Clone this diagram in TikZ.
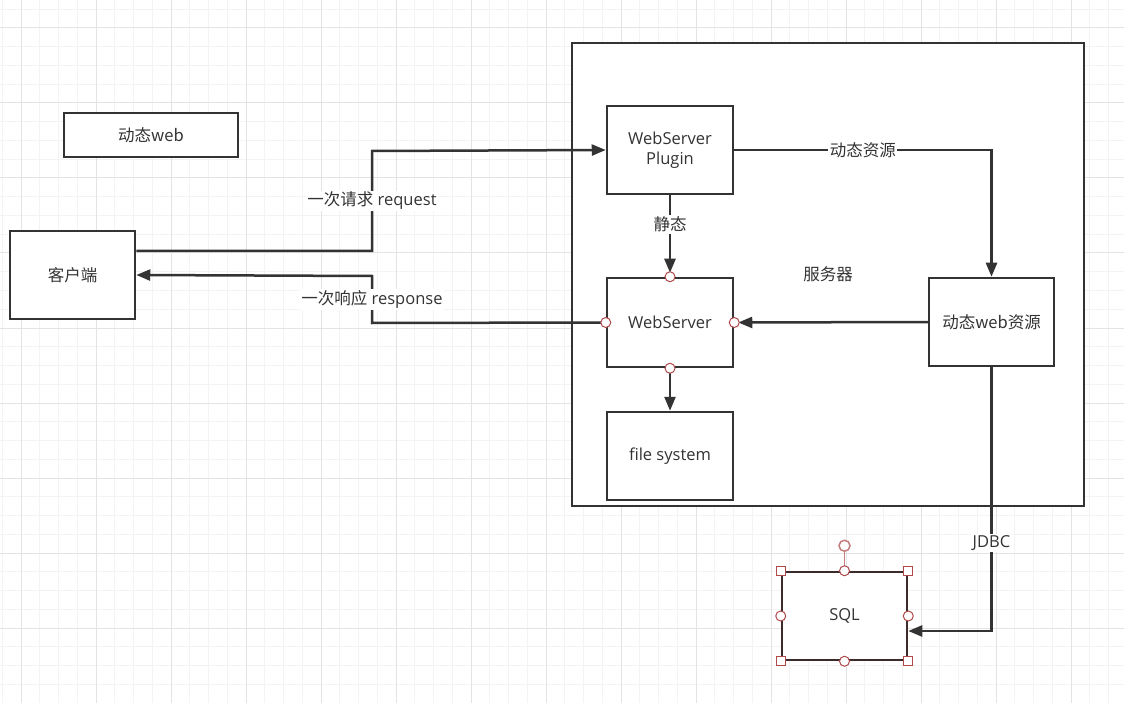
\documentclass[tikz,border=0pt]{standalone}
\usepackage{fontspec}
\setmainfont{Open Sans}
\newfontfamily\cjk{Noto Sans CJK SC}
\usepackage{xcolor}
\definecolor{edge}{HTML}{333333}
\definecolor{txt}{HTML}{333333}
\definecolor{gridminor}{HTML}{F3F3F3}
\definecolor{gridmajor}{HTML}{E3E3E3}
\definecolor{handle}{HTML}{B04A4A}
\definecolor{rothandle}{HTML}{C47E7E}
\definecolor{selborder}{HTML}{3D2B2B}
\usetikzlibrary{arrows.meta, positioning, calc}
\newcommand{\zh}[1]{{\cjk #1}}

\begin{document}
\begin{tikzpicture}[
  x=1pt, y=-1pt,
  box/.style={rectangle, draw=edge, line width=2.5pt, fill=white,
    minimum width=126pt, minimum height=88pt, align=center, text=txt,
    font=\fontsize{16.5}{20}\selectfont, inner sep=0pt},
  conn/.style={draw=edge, line width=2.5pt, -{Triangle[length=14pt,width=11pt]}},
  lbl/.style={fill=white, inner sep=1.5pt, text=txt,
    font=\fontsize{16.5}{20}\selectfont},
  port/.style={circle, draw=handle, fill=white, line width=1pt,
    minimum size=10pt, inner sep=0pt},
  hsq/.style={rectangle, draw=handle, fill=white, line width=1pt,
    minimum size=9pt, inner sep=0pt},
]
  \useasboundingbox (0,0) rectangle (1124,703);
  \fill[white] (0,0) rectangle (1124,703);

  % Grid
  \foreach \i in {0,...,59}
    \draw[gridminor, line width=1pt] ({2.25+18.75*\i},0) -- ({2.25+18.75*\i},703);
  \foreach \j in {0,...,37}
    \draw[gridminor, line width=1pt] (0,{9.25+18.75*\j}) -- (1124,{9.25+18.75*\j});
  \foreach \i in {0,...,14}
    \draw[gridmajor, line width=1pt] ({21+75*\i},0) -- ({21+75*\i},703);
  \foreach \j in {0,...,9}
    \draw[gridmajor, line width=1pt] (0,{28+75*\j}) -- (1124,{28+75*\j});

  % Server frame
  \node[box, minimum width=512pt, minimum height=463pt] (server)
    at (828,274.5) {\zh{服务器}};

  % Legend
  \node[box, minimum width=174pt, minimum height=44pt] (dynweb)
    at (151,135) {\zh{动态web}};

  % Client
  \node[box, minimum width=125pt] (client) at (72.5,275) {\zh{客户端}};

  % Inside the server
  \node[box] (plugin) at (670,150) {WebServer\\Plugin};
  \node[box, minimum height=89pt] (webserver) at (670,322.5) {WebServer};
  \node[box] (filesys) at (670,456) {file system};
  \node[box, minimum width=125pt] (dynres) at (991.5,322) {\zh{动态web资源}};

  % Database
  \node[box, draw=selborder, minimum width=125pt] (sqlbox) at (844.5,616) {SQL};

  % Connectors
  \draw[conn] ([yshift=24pt]client.east) -- (372,251)
    -- node[lbl]{\zh{一次请求} request} (372,151) -- (plugin.west);
  \draw[conn] (webserver.west) -- (372,323)
    -- node[lbl]{\zh{一次响应} response} (372,276) -- (client.east);
  \draw[conn, shorten >=4pt] (plugin.south) -- node[lbl, pos=0.36]{\zh{静态}} (webserver.north);
  \draw[conn] (plugin.east) -| node[lbl, pos=0.25]{\zh{动态资源}} (dynres.north);
  \draw[conn, shorten >=4pt] (dynres.west) -- (webserver.east);
  \draw[conn] (webserver.south) -- (filesys.north);
  \draw[conn] (dynres.south) |- node[lbl, pos=0.334]{JDBC} ([yshift=-15pt]sqlbox.east);

  % Ports on WebServer
  \foreach \a/\n in {north/n, south/s, west/w, east/e}
    \node[port] (ws-\n) at (webserver.\a) {};

  % Selection handles on SQL
  \draw[rothandle, line width=1.2pt] (sqlbox.north) -- ++(0,-20);
  \node[circle, draw=rothandle, fill=white, line width=1.5pt,
    minimum size=11pt, inner sep=0pt] (rot) at ($(sqlbox.north)+(0,-25)$) {};
  \foreach \a/\n in {north west/nw, north east/ne, south west/sw, south east/se}
    \node[hsq] (sq-\n) at (sqlbox.\a) {};
  \foreach \a/\n in {north/n, south/s, west/w, east/e}
    \node[port] (sp-\n) at (sqlbox.\a) {};
\end{tikzpicture}
\end{document}
